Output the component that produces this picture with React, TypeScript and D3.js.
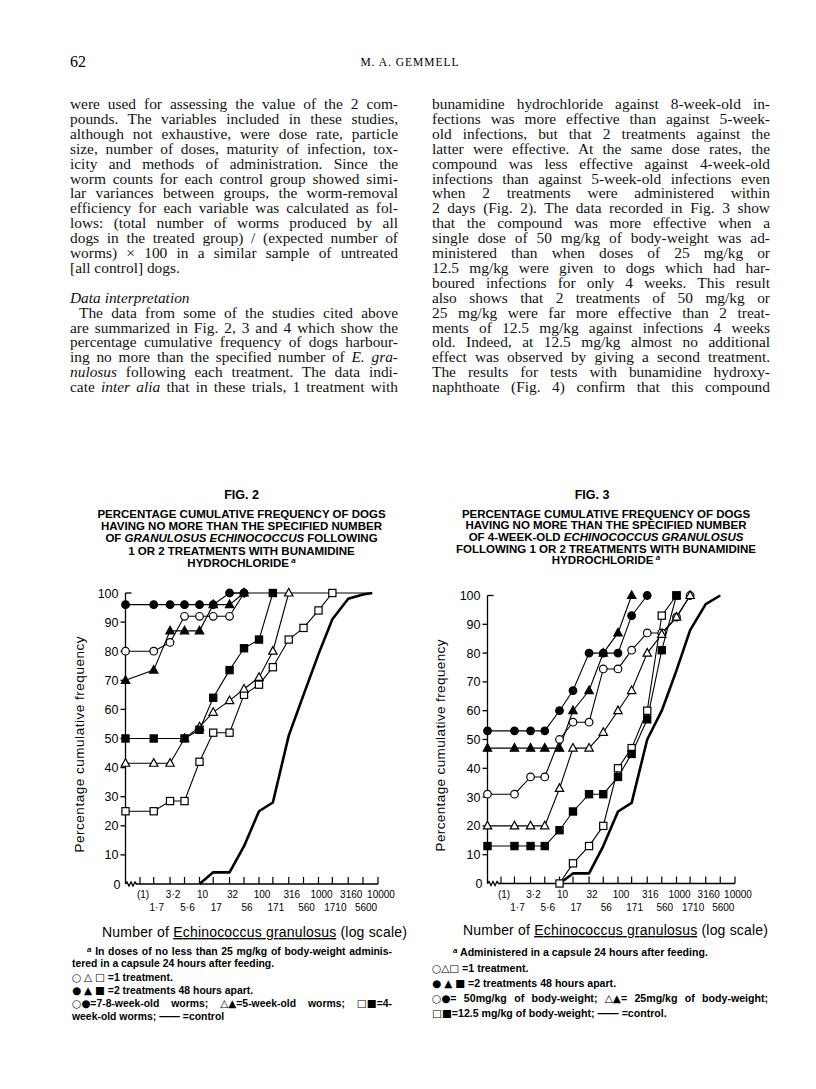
import React, { useLayoutEffect, useRef } from "react";
import * as d3 from "d3";

// ---------------- data ----------------
const xTickValues = [1, 1.7, 3.2, 5.6, 10, 17, 32, 56, 100, 171, 316, 560, 1000, 1710, 3160, 5600, 10000];
const xTickLabelsUpper = ["(1)", "3·2", "10", "32", "100", "316", "1000", "3160", "10000"];
const xTickLabelsLower = ["1·7", "5·6", "17", "56", "171", "560", "1710", "5600"];
const yTickValues = [0, 10, 20, 30, 40, 50, 60, 70, 80, 90, 100];

// Fig. 2
const fig2OpenCircleX = [0, 1.7, 3.2, 5.6, 10, 17, 32, 56];
const fig2OpenCircleY = [80, 80, 83, 92, 92, 92, 92, 100];
const fig2FilledCircleX = [0, 1.7, 3.2, 5.6, 10, 17, 32, 56];
const fig2FilledCircleY = [96, 96, 96, 96, 96, 96, 100, 100];
const fig2OpenTriangleX = [0, 1.7, 3.2, 5.6, 10, 17, 32, 56, 100, 171, 316];
const fig2OpenTriangleY = [41.5, 41.5, 41.5, 50, 54, 59, 63, 67, 71, 80, 100];
const fig2FilledTriangleX = [0, 1.7, 3.2, 5.6, 10, 17, 32, 56];
const fig2FilledTriangleY = [70, 73.5, 87, 87, 87, 96, 96, 100];
const fig2OpenSquareX = [0, 1.7, 3.2, 5.6, 10, 17, 32, 56, 100, 171, 316, 560, 1000, 1710];
const fig2OpenSquareY = [25, 25, 28.5, 28.5, 42, 52, 52, 65, 68.5, 74.5, 84, 88, 94, 100];
const fig2FilledSquareX = [0, 1.7, 5.6, 10, 17, 32, 56, 100, 171];
const fig2FilledSquareY = [50, 50, 50, 53, 64, 73.5, 81, 84, 100];
const fig2ControlX = [10, 17, 32, 56, 100, 171, 316, 560, 1000, 1710, 3160, 5600, 8000];
const fig2ControlY = [0, 4, 4, 13, 25, 28, 51, 65, 79, 91, 98, 99.5, 100];

// Fig. 3
const fig3OpenCircleX = [0, 1.7, 3.2, 5.6, 10, 17, 32, 56, 100, 171, 316, 560, 1000, 1710];
const fig3OpenCircleY = [31, 31, 37, 37, 50, 56, 56, 74.5, 74.5, 81, 87, 87, 92.5, 100];
const fig3FilledCircleX = [0, 1.7, 3.2, 5.6, 10, 17, 32, 56, 100, 171, 316];
const fig3FilledCircleY = [53, 53, 53, 53, 60, 67, 80, 80, 80, 93, 100];
const fig3OpenTriangleX = [0, 1.7, 3.2, 5.6, 10, 17, 32, 56, 100, 171, 316, 560, 1000, 1710];
const fig3OpenTriangleY = [20, 20, 20, 20, 33, 47, 47, 52.5, 60, 67, 80, 86.5, 92.5, 100];
const fig3FilledTriangleX = [0, 1.7, 3.2, 5.6, 10, 17, 32, 56, 100, 171];
const fig3FilledTriangleY = [47, 47, 47, 47, 47, 60, 67, 80, 87, 100];
const fig3OpenSquareX = [10, 17, 32, 56, 100, 171, 316, 560, 1000];
const fig3OpenSquareY = [0, 7, 13, 20, 40, 47, 60, 93, 100];
const fig3FilledSquareX = [0, 1.7, 3.2, 5.6, 10, 17, 32, 56, 100, 171, 316, 560, 1000];
const fig3FilledSquareY = [13, 13, 13, 13, 18.5, 25, 31, 31, 37, 45, 57, 81, 100];
const fig3ControlX = [10, 17, 32, 56, 100, 171, 316, 560, 1000, 1710, 3160, 5600];
const fig3ControlY = [0, 3.5, 3.5, 13, 25, 28, 50, 60, 74, 88, 97, 100];

// ---------------- text ----------------
const leftColumnLines = [
  "were used for assessing the value of the 2 com-",
  "pounds. The variables included in these studies,",
  "although not exhaustive, were dose rate, particle",
  "size, number of doses, maturity of infection, tox-",
  "icity and methods of administration. Since the",
  "worm counts for each control group showed simi-",
  "lar variances between groups, the worm-removal",
  "efficiency for each variable was calculated as fol-",
  "lows: (total number of worms produced by all",
  "dogs in the treated group) / (expected number of",
  "worms) × 100 in a similar sample of untreated",
  "[all control] dogs.",
  "",
  "_Data interpretation_",
  "The data from some of the studies cited above",
  "are summarized in Fig. 2, 3 and 4 which show the",
  "percentage cumulative frequency of dogs harbour-",
  "ing no more than the specified number of _E. gra-_",
  "_nulosus_ following each treatment. The data indi-",
  "cate _inter alia_ that in these trials, 1 treatment with",
];
const leftColumnUnjustified = [11, 12, 13];
const rightColumnLines = [
  "bunamidine hydrochloride against 8-week-old in-",
  "fections was more effective than against 5-week-",
  "old infections, but that 2 treatments against the",
  "latter were effective. At the same dose rates, the",
  "compound was less effective against 4-week-old",
  "infections than against 5-week-old infections even",
  "when 2 treatments were administered within",
  "2 days (Fig. 2). The data recorded in Fig. 3 show",
  "that the compound was more effective when a",
  "single dose of 50 mg/kg of body-weight was ad-",
  "ministered than when doses of 25 mg/kg or",
  "12.5 mg/kg were given to dogs which had har-",
  "boured infections for only 4 weeks. This result",
  "also shows that 2 treatments of 50 mg/kg or",
  "25 mg/kg were far more effective than 2 treat-",
  "ments of 12.5 mg/kg against infections 4 weeks",
  "old. Indeed, at 12.5 mg/kg almost no additional",
  "effect was observed by giving a second treatment.",
  "The results for tests with bunamidine hydroxy-",
  "naphthoate (Fig. 4) confirm that this compound",
];

const fig2Title = [
  "PERCENTAGE CUMULATIVE FREQUENCY OF DOGS",
  "HAVING NO MORE THAN THE SPECIFIED NUMBER",
  "OF _GRANULOSUS ECHINOCOCCUS_ FOLLOWING",
  "1 OR 2 TREATMENTS WITH BUNAMIDINE",
  "HYDROCHLORIDE",
];
const fig3Title = [
  "PERCENTAGE CUMULATIVE FREQUENCY OF DOGS",
  "HAVING NO MORE THAN THE SPECIFIED NUMBER",
  "OF 4-WEEK-OLD _ECHINOCOCCUS GRANULOSUS_",
  "FOLLOWING 1 OR 2 TREATMENTS WITH BUNAMIDINE",
  "HYDROCHLORIDE",
];

const SANS = "'Liberation Sans', Arial, Helvetica, sans-serif";
const SERIF = "'Liberation Serif', 'Times New Roman', serif";
const SYM = "'DejaVu Sans', sans-serif";

function parts(line: string) {
  return line.split("_").map((p, i) => (
    <tspan key={i} fontStyle={i % 2 === 1 ? "italic" : "normal"}>{p}</tspan>
  ));
}

// symbols (○△□●▲■) are set in a symbol font
function symParts(line: string) {
  const re = /([○△□●▲■]+)/;
  return line.split(re).map((p, i) =>
    re.test(p) ? (
      <tspan key={i} fontFamily={SYM} fontWeight="normal" fontSize={10.5}>{p}</tspan>
    ) : (
      <tspan key={i}>{p}</tspan>
    )
  );
}

type Layout = {
  xZero: number; xFirst: number; xLast: number; yZero: number; yTop: number;
  center: number; figLabel: string; figLabelX: number; titleLines: string[];
  titleY: number[]; yTitleX: number; yTitleLen: number; xTitleX: number; xTitleY: number; xTitleLen: number;
};

type Series = { x: number[]; y: number[]; shape: "circle" | "triangle" | "square"; filled: boolean };

function Marker({ cx, cy, shape, filled }: { cx: number; cy: number; shape: string; filled: boolean }) {
  const fill = filled ? "#000" : "#fff";
  if (shape === "circle") return <circle cx={cx} cy={cy} r={3.8} fill={fill} stroke="#000" strokeWidth={1.2} />;
  if (shape === "square")
    return <rect x={cx - 3.6} y={cy - 3.6} width={7.2} height={7.2} fill={fill} stroke="#000" strokeWidth={1.2} />;
  return (
    <path d={`M${cx},${cy - 4.6} L${cx + 4.2},${cy + 3} L${cx - 4.2},${cy + 3} Z`} fill={fill} stroke="#000" strokeWidth={1.2} />
  );
}

function Figure({ L, series, control, ceiling }: { L: Layout; series: Series[]; control: { x: number[]; y: number[] }; ceiling: boolean }) {
  const xl = d3.scaleLog().domain([1, 10000]).range([L.xFirst, L.xLast]);
  const xp = (v: number) => (v === 0 ? L.xZero : xl(v));
  const y = d3.scaleLinear().domain([0, 100]).range([L.yZero, L.yTop]);
  const line = d3.line<[number, number]>().x((d) => xp(d[0])).y((d) => y(d[1]));
  const zip = (xs: number[], ys: number[]) => xs.map((v, i) => [v, ys[i]] as [number, number]);

  const ceilStart = d3.min(series.flatMap((s) => s.x.filter((_, i) => s.y[i] >= 100))) as number;
  const ceilEnd = d3.max(control.x) as number;
  const zz = L.xZero;
  const y0 = y(0);
  const zig = `M${zz},${y0} l1.5,-2 l2,4 l2,-4 l2,4 l2,-4 l1.5,2 L${L.xLast},${y0}`;

  return (
    <g>
      <text x={L.figLabelX} y={499} textAnchor="middle" fontFamily={SANS} fontWeight="bold" fontSize={12.5}>{L.figLabel}</text>
      {L.titleLines.map((t, i) => (
        <text key={i} x={L.center} y={L.titleY[i]} textAnchor="middle" fontFamily={SANS} fontWeight="bold" fontSize={11.5}>
          {parts(t)}
          {i === L.titleLines.length - 1 && (
            <tspan fontStyle="italic" fontSize={8} dy={-4}> a</tspan>
          )}
        </text>
      ))}
      {/* y axis */}
      <line x1={L.xZero} x2={L.xZero} y1={y(0)} y2={y(100)} stroke="#000" strokeWidth={1.3} />
      {yTickValues.map((v) => (
        <g key={v}>
          {v === 100 ? (
            <line x1={L.xZero} x2={L.xZero + 6} y1={y(v)} y2={y(v)} stroke="#000" strokeWidth={1.3} />
          ) : v > 0 ? (
            <line x1={L.xZero - 5} x2={L.xZero} y1={y(v)} y2={y(v)} stroke="#000" strokeWidth={1.3} />
          ) : null}
          <text x={L.xZero - (v === 0 ? 5 : 7)} y={y(v) + 4.5} textAnchor="end" fontFamily={SANS} fontSize={12.5}>{v}</text>
        </g>
      ))}
      <text transform={`translate(${L.yTitleX},${(y(0) + y(100)) / 2 + 6}) rotate(-90)`} textAnchor="middle" fontFamily={SANS} fontSize={13.5} textLength={L.yTitleLen} lengthAdjust="spacing">
        Percentage cumulative frequency
      </text>
      {/* x axis */}
      <path d={zig} fill="none" stroke="#000" strokeWidth={1.3} />
      {xTickValues.map((v, i) => (
        <line key={i} x1={xl(v)} x2={xl(v)} y1={y0} y2={y0 - 7} stroke="#000" strokeWidth={1.2} />
      ))}
      {xTickLabelsUpper.map((t, i) => (
        <text key={"u" + i} x={xl(xTickValues[i * 2]) + 3} y={y0 + 14} textAnchor="middle" fontFamily={SANS} fontSize={10}>{t}</text>
      ))}
      {xTickLabelsLower.map((t, i) => (
        <text key={"l" + i} x={xl(xTickValues[i * 2 + 1]) + 3} y={y0 + 27} textAnchor="middle" fontFamily={SANS} fontSize={10}>{t}</text>
      ))}
      <text x={L.xTitleX} y={L.xTitleY} fontFamily={SANS} fontSize={14} textLength={L.xTitleLen} lengthAdjust="spacing">
        Number of <tspan style={{ textDecoration: "underline" }}>Echinococcus granulosus</tspan> (log scale)
      </text>
      {/* series lines */}
      {series.map((s, i) => (
        <path key={i} d={line(zip(s.x, s.y)) || ""} fill="none" stroke="#000" strokeWidth={1.1} />
      ))}
      {ceiling && (
        <line x1={xp(ceilStart)} x2={xp(ceilEnd)} y1={y(100)} y2={y(100)} stroke="#000" strokeWidth={1.2} />
      )}
      <path d={line(zip(control.x, control.y)) || ""} fill="none" stroke="#000" strokeWidth={2.6} strokeLinejoin="round" />
      {/* markers */}
      {[...series.filter((s) => !s.filled), ...series.filter((s) => s.filled)].map((s, i) =>
        s.x.map((v, j) => <Marker key={i + "-" + j} cx={xp(v)} cy={y(s.y[j])} shape={s.shape} filled={s.filled} />)
      )}
    </g>
  );
}

const fig2Layout: Layout = {
  xZero: 125.5, xFirst: 140, xLast: 378, yZero: 884, yTop: 593,
  center: 241.5, figLabel: "FIG. 2", figLabelX: 241.5, titleLines: fig2Title,
  titleY: [517.5, 529.8, 542.3, 554.8, 567.2], yTitleX: 84, yTitleLen: 216, xTitleX: 102, xTitleY: 937, xTitleLen: 305,
};
const fig3Layout: Layout = {
  xZero: 487.5, xFirst: 501, xLast: 735, yZero: 883.5, yTop: 595.5,
  center: 606, figLabel: "FIG. 3", figLabelX: 592, titleLines: fig3Title,
  titleY: [517.5, 529.2, 541, 552.6, 564.3], yTitleX: 445, yTitleLen: 212, xTitleX: 463, xTitleY: 935, xTitleLen: 305,
};

const fig2Series: Series[] = [
  { x: fig2OpenSquareX, y: fig2OpenSquareY, shape: "square", filled: false },
  { x: fig2OpenTriangleX, y: fig2OpenTriangleY, shape: "triangle", filled: false },
  { x: fig2OpenCircleX, y: fig2OpenCircleY, shape: "circle", filled: false },
  { x: fig2FilledSquareX, y: fig2FilledSquareY, shape: "square", filled: true },
  { x: fig2FilledTriangleX, y: fig2FilledTriangleY, shape: "triangle", filled: true },
  { x: fig2FilledCircleX, y: fig2FilledCircleY, shape: "circle", filled: true },
];
const fig3Series: Series[] = [
  { x: fig3OpenSquareX, y: fig3OpenSquareY, shape: "square", filled: false },
  { x: fig3OpenCircleX, y: fig3OpenCircleY, shape: "circle", filled: false },
  { x: fig3OpenTriangleX, y: fig3OpenTriangleY, shape: "triangle", filled: false },
  { x: fig3FilledSquareX, y: fig3FilledSquareY, shape: "square", filled: true },
  { x: fig3FilledTriangleX, y: fig3FilledTriangleY, shape: "triangle", filled: true },
  { x: fig3FilledCircleX, y: fig3FilledCircleY, shape: "circle", filled: true },
];

function Column({ lines, x, width, unjust, firstY, step }: { lines: string[]; x: number; width: number; unjust: number[]; firstY: number; step: number }) {
  return (
    <g fontFamily={SERIF} fontSize={15.4} fill="#111">
      {lines.map((ln, i) => {
        if (!ln) return null;
        const indent = ln.startsWith("The data from") ? 9 : 0;
        const just = !unjust.includes(i);
        return (
          <text key={i} x={x + indent} y={firstY + i * step} data-w={just ? width - indent : undefined}>
            {parts(ln)}
          </text>
        );
      })}
    </g>
  );
}

export default function App() {
  const ref = useRef<SVGSVGElement>(null);
  useLayoutEffect(() => {
    if (!ref.current) return;
    d3.select(ref.current)
      .selectAll<SVGTextElement, unknown>("text[data-w]")
      .each(function () {
        const w = +(this.getAttribute("data-w") || 0);
        const nat = this.getComputedTextLength();
        const spaces = ((this.textContent || "").match(/ /g) || []).length;
        if (nat < w && spaces > 0) {
          this.setAttribute("word-spacing", String((w - nat) / spaces));
        } else if (nat > w) {
          this.setAttribute("textLength", String(w));
          this.setAttribute("lengthAdjust", "spacingAndGlyphs");
        }
      });
  }, []);

  const firstY = 109;
  const step = 14.9;
  return (
    <svg ref={ref} width={816} height={1089} viewBox="0 0 816 1089" style={{ position: "absolute", left: 0, top: 0, background: "#fff" }}>
      <rect width={816} height={1089} fill="#fff" />
      <text x={70} y={67} fontFamily={SERIF} fontSize={16}>62</text>
      <text x={410} y={66} textAnchor="middle" fontFamily={SERIF} fontSize={11.5} letterSpacing={1}>M. A. GEMMELL</text>
      <Column lines={leftColumnLines} x={70} width={328} unjust={leftColumnUnjustified} firstY={firstY} step={step} />
      <Column lines={rightColumnLines} x={432} width={338} unjust={[]} firstY={firstY} step={step} />

      <Figure L={fig2Layout} series={fig2Series} control={{ x: fig2ControlX, y: fig2ControlY }} ceiling={true} />
      <Figure L={fig3Layout} series={fig3Series} control={{ x: fig3ControlX, y: fig3ControlY }} ceiling={false} />

      {/* Fig 2 footnotes */}
      <g fontFamily={SANS} fontWeight="bold" fontSize={10.4}>
        <text x={87} y={955} data-w={305}>
          <tspan fontStyle="italic" fontSize={8} dy={-3}>a</tspan>
          <tspan dy={3}> In doses of no less than 25 mg/kg of body-weight adminis-</tspan>
        </text>
        <text x={72} y={967}>tered in a capsule 24 hours after feeding.</text>
        <text x={72} y={981}>{symParts("○ △ □ =1 treatment.")}</text>
        <text x={72} y={994}>{symParts("● ▲ ■ =2 treatments 48 hours apart.")}</text>
        <text x={72} y={1006.5} data-w={320}>{symParts("○●=7-8-week-old worms; △▲=5-week-old worms; □■=4-")}</text>
        <text x={72} y={1019.5}>week-old worms; —— =control</text>
      </g>
      {/* Fig 3 footnotes */}
      <g fontFamily={SANS} fontWeight="bold" fontSize={10.6}>
        <text x={453} y={956}>
          <tspan fontStyle="italic" fontSize={8} dy={-3}>a</tspan>
          <tspan dy={3}> Administered in a capsule 24 hours after feeding.</tspan>
        </text>
        <text x={432} y={972}>{symParts("○△□ =1 treatment.")}</text>
        <text x={432} y={987}>{symParts("● ▲ ■ =2 treatments 48 hours apart.")}</text>
        <text x={432} y={1002} data-w={336}>{symParts("○●= 50mg/kg of body-weight; △▲= 25mg/kg of body-weight;")}</text>
        <text x={432} y={1017}>{symParts("□■=12.5 mg/kg of body-weight; —— =control.")}</text>
      </g>
    </svg>
  );
}
